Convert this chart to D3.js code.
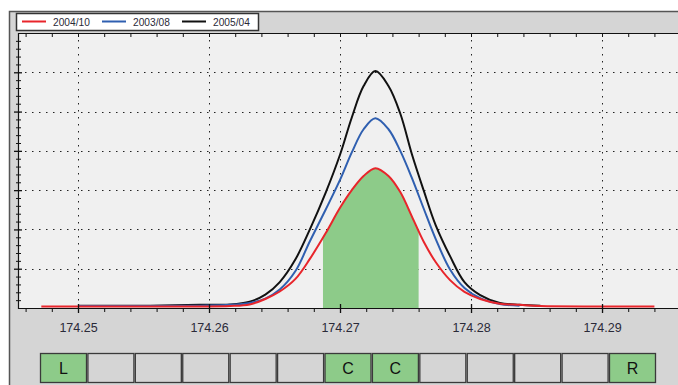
<!DOCTYPE html>
<html>
<head>
<meta charset="utf-8">
<script src="https://cdn.jsdelivr.net/npm/d3@7"></script>
<style>
  body { margin: 0; background: #fff; }
  svg { display: block; font-family: "Liberation Sans", Arial, sans-serif; }
</style>
</head>
<body>
<div id="chart"></div>
<script>
// shared x positions (frequency)
const xs = [174.2472, 174.25, 174.2555, 174.2593, 174.2616, 174.2631, 174.2643, 174.2654,
  174.2666, 174.2677, 174.2689, 174.27, 174.2709, 174.2718, 174.2727, 174.2737, 174.2746,
  174.2755, 174.2764, 174.2773, 174.2784, 174.2795, 174.2807, 174.2822, 174.2837, 174.2853,
  174.2898, 174.294];

const red = [0.04, 0.04, 0.04, 0.04, 0.05, 0.09, 0.23, 0.42, 0.74, 1.25, 1.90, 2.55, 3.00, 3.36,
  3.56, 3.36, 2.95, 2.32, 1.68, 1.17, 0.71, 0.41, 0.23, 0.11, 0.08, 0.05, 0.04, 0.04];
const blue = [null, 0.05, 0.05, 0.06, 0.08, 0.13, 0.24, 0.47, 0.94, 1.70, 2.50, 3.26, 3.96, 4.55,
  4.83, 4.55, 4.00, 3.30, 2.52, 1.76, 0.98, 0.51, 0.25, 0.10, 0.06, null, null, null];
const black = [null, 0.06, 0.06, 0.08, 0.09, 0.16, 0.34, 0.66, 1.24, 2.00, 2.93, 3.90, 4.85, 5.65,
  6.03, 5.65, 4.95, 3.90, 2.98, 2.11, 1.32, 0.66, 0.33, 0.13, 0.08, 0.06, null, null];

const seriesNames = ["2004/10", "2003/08", "2005/04"];
const xTickLabels = [174.25, 174.26, 174.27, 174.28, 174.29];
const yMajorTicks = [1, 2, 3, 4, 5, 6];
const fillRange = [174.2687, 174.2760];
const buttonLabels = ["L", "", "", "", "", "", "C", "C", "", "", "", "", "R"];
const buttonOn = [true, false, false, false, false, false, true, true, false, false, false, false, true];

const width = 678, height = 385;
const pLeft = 18, pTop = 33, pBottom = 308, pRight = 678;

const svg = d3.select("#chart").append("svg")
  .attr("width", width)
  .attr("height", height);

// outer panel
svg.append("rect").attr("x", 9).attr("y", 11).attr("width", width).attr("height", height)
  .attr("fill", "#d5d5d5");
svg.append("path").attr("d", `M9.5,${height}V11.5H${width}`)
  .attr("fill", "none").attr("stroke", "#555").attr("stroke-width", 1.5);

const x = d3.scaleLinear().domain([174.24542, 174.2958]).range([pLeft, pRight]);
const y = d3.scaleLinear().domain([0, 7]).range([pBottom, pTop]);

// plot background
svg.append("rect").attr("x", pLeft).attr("y", pTop)
  .attr("width", pRight - pLeft).attr("height", pBottom - pTop)
  .attr("fill", "#f0f0f0");

// dotted grid
const grid = svg.append("g").attr("stroke", "#222").attr("stroke-dasharray", "1.5,5.5");
grid.selectAll(".vg").data(xTickLabels).join("line")
  .attr("x1", d => Math.round(x(d)) + 0.5).attr("x2", d => Math.round(x(d)) + 0.5)
  .attr("y1", pTop).attr("y2", pBottom);
grid.selectAll(".hg").data(yMajorTicks).join("line")
  .attr("y1", d => Math.round(y(d)) + 0.5).attr("y2", d => Math.round(y(d)) + 0.5)
  .attr("x1", pLeft).attr("x2", pRight);

// green selection fill under the red trace
const pts = xs.map((v, i) => ({ x: v, r: red[i], b: blue[i], k: black[i] }));
const smooth = d3.curveCatmullRom.alpha(0.5);
svg.append("clipPath").attr("id", "sel")
  .append("rect")
  .attr("x", x(fillRange[0])).attr("y", pTop)
  .attr("width", x(fillRange[1]) - x(fillRange[0])).attr("height", pBottom - pTop);

const area = d3.area()
  .x(d => x(d.x)).y0(y(0)).y1(d => y(d.r))
  .curve(smooth);
svg.append("path").datum(pts)
  .attr("clip-path", "url(#sel)")
  .attr("fill", "#8dcb89")
  .attr("d", area);

// traces
const colors = { k: "#111", b: "#2f5fb0", r: "#e8252b" };
["k", "b", "r"].forEach(key => {
  const line = d3.line()
    .defined(d => d[key] != null)
    .x(d => x(d.x)).y(d => y(d[key]))
    .curve(smooth);
  svg.append("path").datum(pts)
    .attr("fill", "none")
    .attr("stroke", colors[key])
    .attr("stroke-width", 2)
    .attr("d", line);
});

// axes frame
svg.append("path")
  .attr("d", `M${pLeft + 0.5},${pTop}V${pBottom + 0.5}H${pRight} M${pLeft},${pTop + 0.5}H${pRight}`)
  .attr("fill", "none").attr("stroke", "#111").attr("stroke-width", 1.2);

// x axis ticks
const xMinor = d3.range(174.246, 174.2945, 0.002);
svg.append("g").attr("transform", `translate(0,${pBottom})`)
  .call(d3.axisBottom(x).tickValues(xMinor).tickSize(4).tickFormat(""))
  .call(g => g.select(".domain").remove())
  .call(g => g.selectAll("line").attr("stroke", "#111"));
svg.append("g").attr("transform", `translate(0,${pTop})`)
  .call(d3.axisBottom(x).tickValues(xMinor).tickSize(4).tickFormat(""))
  .call(g => g.select(".domain").remove())
  .call(g => g.selectAll("line").attr("stroke", "#111"));
svg.append("g").attr("transform", `translate(0,${pBottom})`)
  .call(d3.axisBottom(x).tickValues(xTickLabels).tickSize(5).tickPadding(10)
    .tickFormat(d3.format(".2f")))
  .call(g => g.select(".domain").remove())
  .call(g => g.selectAll("line").attr("stroke", "#111").attr("y1", -4).attr("stroke-width", 1.3))
  .call(g => g.selectAll("text").attr("fill", "#2a2a38").attr("font-size", 12.5)
    .attr("font-family", "Liberation Sans, Arial, sans-serif"));

// y axis ticks (no labels)
const yMinor = d3.range(0.2, 7, 0.2).filter(v => Math.abs(v - Math.round(v)) > 0.01);
svg.append("g").attr("transform", `translate(${pLeft},0)`)
  .call(d3.axisRight(y).tickValues(yMinor).tickSize(3).tickFormat(""))
  .call(g => g.select(".domain").remove())
  .call(g => g.selectAll("line").attr("stroke", "#111").attr("x1", -2));
svg.append("g").attr("transform", `translate(${pLeft},0)`)
  .call(d3.axisRight(y).tickValues(yMajorTicks).tickSize(4).tickFormat(""))
  .call(g => g.select(".domain").remove())
  .call(g => g.selectAll("line").attr("stroke", "#111").attr("x1", -4).attr("stroke-width", 1.3));

// legend
const legend = svg.append("g");
legend.append("rect").attr("x", 16.5).attr("y", 13.5).attr("width", 242).attr("height", 17)
  .attr("fill", "#fff").attr("stroke", "#333").attr("stroke-width", 1.5);
const legendColors = [colors.r, colors.b, colors.k];
const lx = d3.scalePoint().domain(seriesNames).range([22, 182]);
seriesNames.forEach((name, i) => {
  const gx = lx(name);
  legend.append("line").attr("x1", gx).attr("x2", gx + 24).attr("y1", 21.5).attr("y2", 21.5)
    .attr("stroke", legendColors[i]).attr("stroke-width", 2);
  legend.append("text").attr("x", gx + 31).attr("y", 25.5)
    .attr("font-size", 10.2).attr("fill", "#2a2a38").text(name);
});

// button row
const bx = d3.scaleBand().domain(d3.range(buttonLabels.length)).range([40, 655]).paddingInner(0.03);
const buttons = svg.append("g").selectAll("g").data(buttonLabels).join("g")
  .attr("transform", (d, i) => `translate(${bx(i)},353)`);
buttons.append("rect")
  .attr("x", 0.5).attr("y", 0.5)
  .attr("width", bx.bandwidth()).attr("height", 29)
  .attr("fill", (d, i) => buttonOn[i] ? "#8dcb89" : "#d5d5d5")
  .attr("stroke", "#3a3a3a").attr("stroke-width", 1.3);
buttons.append("text")
  .attr("x", bx.bandwidth() / 2 + 0.5).attr("y", 21)
  .attr("text-anchor", "middle")
  .attr("font-size", 16).attr("fill", "#111")
  .text(d => d);
</script>
</body>
</html>
